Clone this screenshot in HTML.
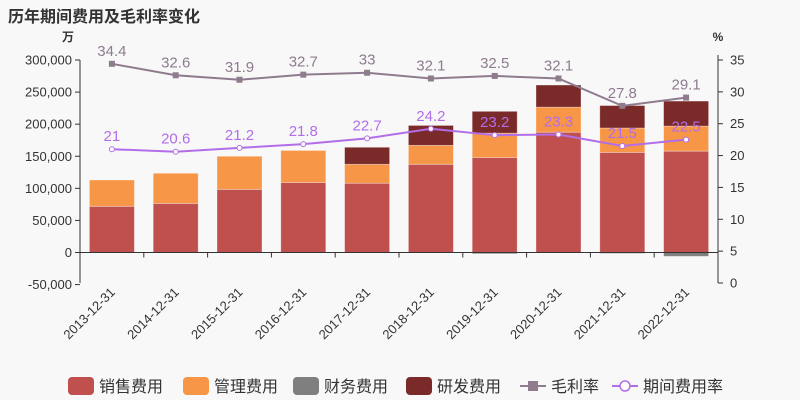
<!DOCTYPE html>
<html><head><meta charset="utf-8"><style>
body{margin:0;background:#f8f8f8;}
svg{display:block;font-family:"Liberation Sans","Noto Sans CJK SC",sans-serif;}
</style></head><body>
<svg id="c" width="800" height="400">
<text x="8" y="22" font-size="16" font-weight="bold" fill="#333">历年期间费用及毛利率变化</text>
</svg>
<script>
const categories=['2013-12-31','2014-12-31','2015-12-31','2016-12-31','2017-12-31','2018-12-31','2019-12-31','2020-12-31','2021-12-31','2022-12-31'];
const salesExp=[72000,76500,98400,109000,108000,137500,148000,187500,156000,158000];
const mgmtExp=[41000,47000,51600,50000,29500,29500,38000,39000,38000,39000];
const finExp=[0,0,0,0,0,0,-2000,0,-1500,-6000];
const rdExp=[0,0,0,0,26500,31000,34000,34500,35000,39000];
const grossMargin=[34.4,32.6,31.9,32.7,33,32.1,32.5,32.1,27.8,29.1];
const expenseRate=[21,20.6,21.2,21.8,22.7,24.2,23.2,23.3,21.5,22.5];
const leftTicks=[-50000,0,50000,100000,150000,200000,250000,300000];
const rightTicks=[0,5,10,15,20,25,30,35];

const svg=document.getElementById('c');
const NS='http://www.w3.org/2000/svg';
const X0=80,X1=718,TOP=60,BOT=283;
const yL=v=>252.5-(v)*(192.5/300000);
const yR=v=>BOT-v*(BOT-TOP)/35;
const bw=(X1-X0)/categories.length;
const xc=i=>X0+bw*(i+0.5);
function el(t,a,txt){const e=document.createElementNS(NS,t);for(const k in a)e.setAttribute(k,a[k]);if(txt!==undefined)e.textContent=txt;svg.appendChild(e);return e;}

let e;
e=el('line',{x1:X0,y1:TOP,x2:X0,y2:BOT,stroke:'#333'});

e=el('line',{x1:X1,y1:TOP-5,x2:X1,y2:BOT,stroke:'#333'});

e=el('text',{x:X0-6,y:41,'font-size':12,'font-weight':'bold','text-anchor':'end',fill:'#333'},'万');

e=el('text',{x:X1,y:41,'font-size':12,'font-weight':'bold','text-anchor':'middle',fill:'#333'},'%');

leftTicks.forEach(v=>{const y=yL(v);
 el('line',{x1:X0-5,y1:y,x2:X0,y2:y,stroke:'#333'});
 e=el('text',{x:X0-8,y:y+4.5,'font-size':13,'text-anchor':'end',fill:'#333'},v.toLocaleString('en-US'));
 });
rightTicks.forEach(v=>{const y=yR(v);
 el('line',{x1:X1,y1:y,x2:X1+5,y2:y,stroke:'#333'});
 e=el('text',{x:X1+12,y:y+4.5,'font-size':13,fill:'#333'},v);
 });

const BW=45;
categories.forEach((c,i)=>{
 const x=xc(i)-BW/2;let pos=0,neg=0;
 [[salesExp,'#c0504d'],[mgmtExp,'#f79646'],[finExp,'#7f7f7f'],[rdExp,'#7b2a2a']].forEach(([arr,col],k)=>{
  const v=arr[i];if(!v)return;let y0,y1;
  if(v>0){y0=yL(pos+v);y1=yL(pos);pos+=v;}else{y0=yL(neg);y1=yL(neg+v);neg+=v;}
  const r=el('rect',{x:x,y:y0,width:BW,height:Math.max(0,y1-y0),fill:col,stroke:'rgba(255,255,255,0.4)','stroke-width':0.8});
  
  
 });
 const tx=xc(i)+4,ty=BOT+10;
 e=el('text',{x:tx,y:ty,'font-size':13,'text-anchor':'end',fill:'#333',transform:`rotate(-45 ${tx} ${ty})`},c);
 
});
e=el('line',{x1:X0,y1:yL(0),x2:X1,y2:yL(0),stroke:'#333'});

categories.forEach((c,i)=>el('line',{x1:X0+bw*i,y1:yL(0),x2:X0+bw*i,y2:yL(0)+5,stroke:'#333'}));

function series(arr,col,name,circle){
 e=el('polyline',{points:arr.map((v,i)=>xc(i)+','+yR(v)).join(' '),fill:'none',stroke:col,'stroke-width':2});
 
 arr.forEach((v,i)=>{
  if(circle){e=el('circle',{cx:xc(i),cy:yR(v),r:2.5,fill:'#fff',stroke:col,'stroke-width':1});}
  else{e=el('rect',{x:xc(i)-3,y:yR(v)-3,width:6,height:6,fill:col});}
  
  e=el('text',{x:xc(i),y:yR(v)-8,'font-size':15,'text-anchor':'middle',fill:col},v);
  
 });
}
series(grossMargin,'#8e7b8e','gross-margin',false);
series(expenseRate,'#b26ee8','expense-rate',true);

const leg=[['销售费用','#c0504d','bar'],['管理费用','#f79646','bar'],['财务费用','#7f7f7f','bar'],['研发费用','#7b2a2a','bar'],['毛利率','#8e7b8e','sq'],['期间费用率','#b26ee8','ci']];
const lx=[68,183,293,406,520,612];
leg.forEach(([t,col,k],i)=>{const x=lx[i],y=386;
 const g=document.createElementNS(NS,'g');svg.appendChild(g);
 const add=(tg,a,tx)=>{const n=document.createElementNS(NS,tg);for(const kk in a)n.setAttribute(kk,a[kk]);if(tx)n.textContent=tx;g.appendChild(n);};
 if(k==='bar'){add('rect',{x:x,y:y-9,width:26,height:18,rx:4,fill:col});}
 else{add('line',{x1:x,y1:y,x2:x+26,y2:y,stroke:col,'stroke-width':2});
  if(k==='sq')add('rect',{x:x+8,y:y-5,width:10,height:10,fill:col});
  else add('circle',{cx:x+13,cy:y,r:5,fill:'#fff',stroke:col,'stroke-width':1.5});}
 add('text',{x:x+31,y:y+6,'font-size':16,fill:'#333'},t);
});
</script>
</body></html>
